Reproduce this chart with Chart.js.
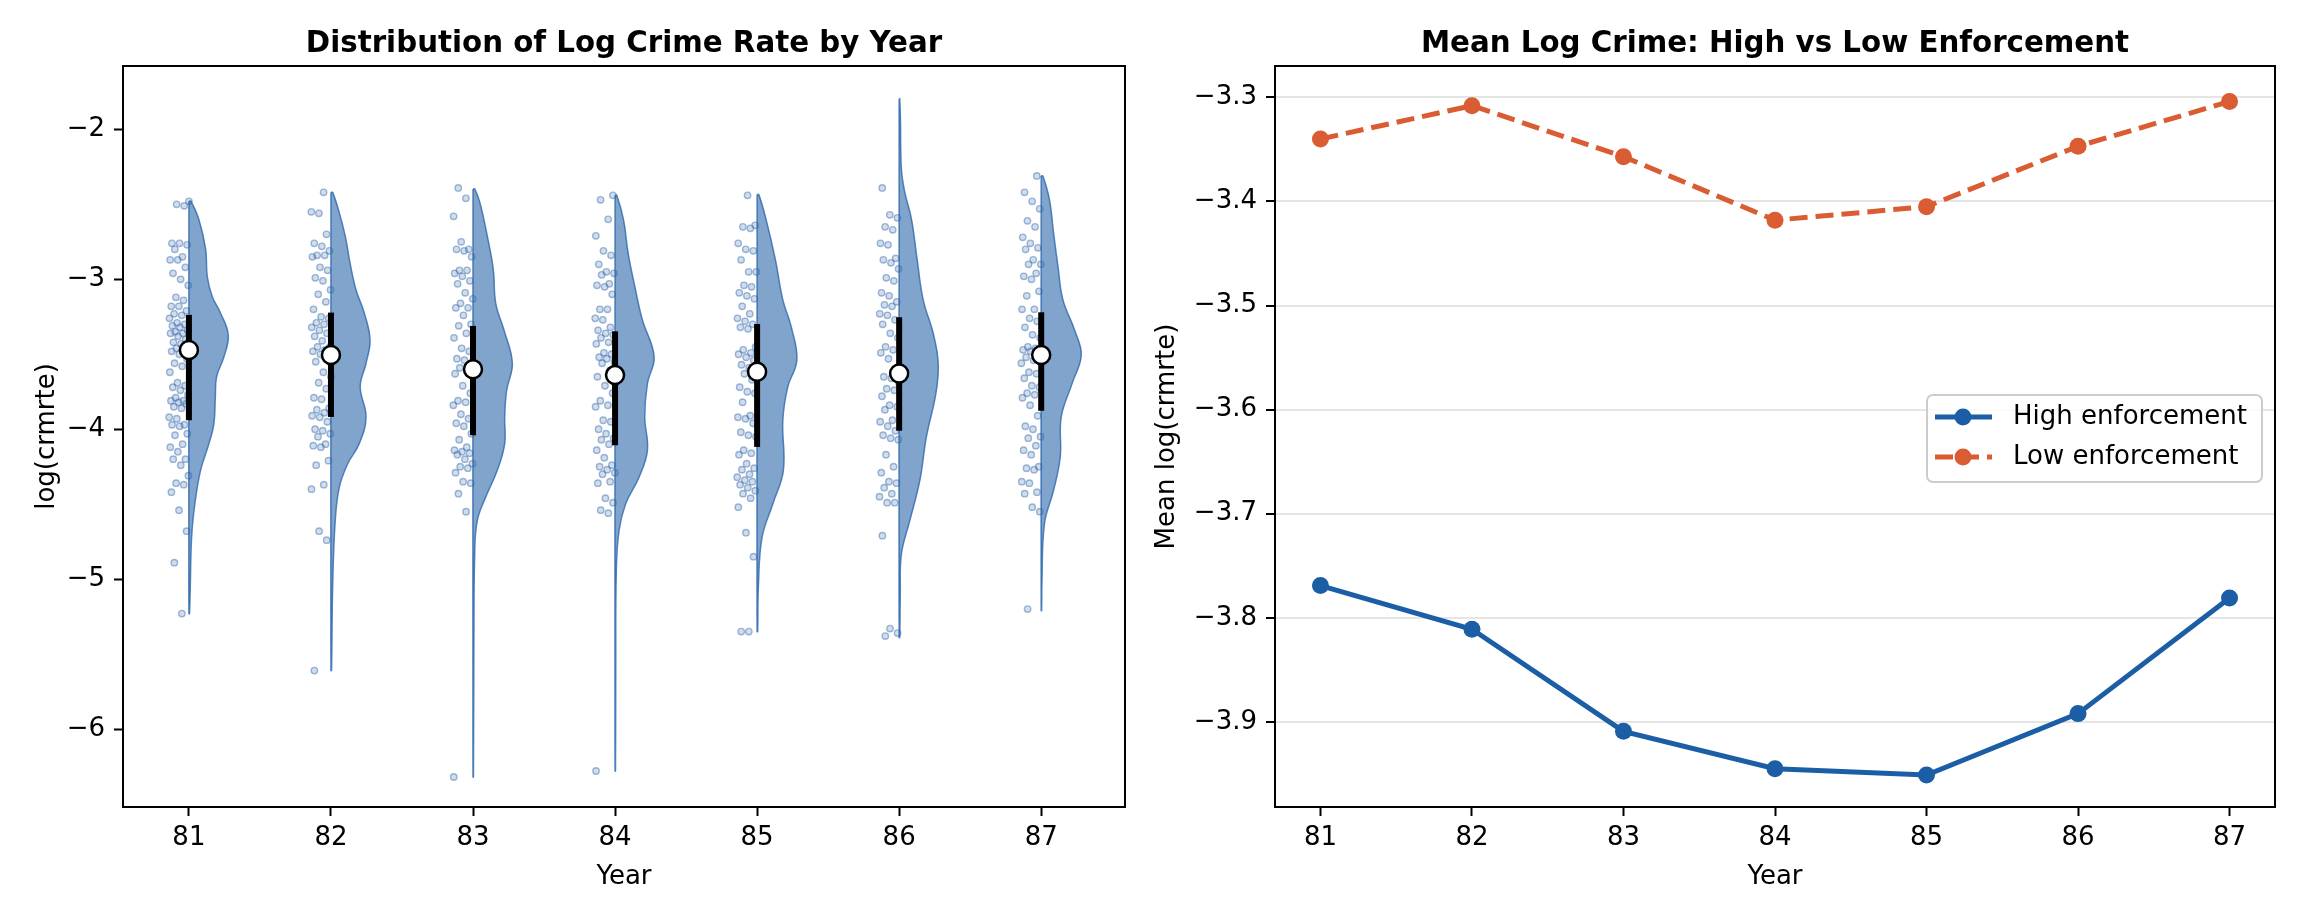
<!DOCTYPE html>
<html>
<head>
<meta charset="utf-8">
<script src="https://cdn.jsdelivr.net/npm/chart.js@4.4.1/dist/chart.umd.min.js"></script>
<style>
  html, body { margin: 0; padding: 0; background: #fff; }
  body { width: 2304px; height: 921px; position: relative; overflow: hidden; }
  #violins { position: absolute; left: 0; top: 0; }
  #means { position: absolute; left: 1140px; top: 0; }
</style>
</head>
<body>
<canvas id="violins" width="1152" height="921"></canvas>
<canvas id="means" width="1164" height="921"></canvas>
<script>
// ---- values ----
var years = [81, 82, 83, 84, 85, 86, 87];

// right panel: mean log(crmrte) per enforcement group
var highEnf = [-3.769, -3.811, -3.909, -3.945, -3.951, -3.892, -3.781];
var lowEnf  = [-3.340, -3.308, -3.357, -3.418, -3.405, -3.347, -3.304];

// left panel: quartiles and median per year
var q1      = [-3.940, -3.918, -4.040, -4.107, -4.118, -4.010, -3.877];
var q3      = [-3.237, -3.222, -3.311, -3.347, -3.298, -3.253, -3.220];
var medians = [-3.472, -3.505, -3.600, -3.639, -3.616, -3.628, -3.505];

// half violin outline: level and half width (in year slots), top to bottom
var kdeY81 = [-2.48, -2.60, -2.80, -2.98, -3.115, -3.226, -3.371, -3.516, -3.65, -3.784, -3.962, -4.096, -4.274, -4.497, -4.72, -5.08, -5.23];
var kdeW81 = [0.014, 0.070, 0.118, 0.129, 0.164, 0.223, 0.277, 0.247, 0.195, 0.186, 0.176, 0.141, 0.082, 0.042, 0.019, 0.009, 0.004];
var kdeY82 = [-2.42, -2.557, -2.714, -2.89, -3.07, -3.226, -3.405, -3.56, -3.717, -3.918, -4.096, -4.23, -4.386, -4.61, -5.05, -5.61];
var kdeW82 = [0.012, 0.059, 0.101, 0.134, 0.176, 0.235, 0.275, 0.247, 0.206, 0.247, 0.199, 0.118, 0.059, 0.030, 0.012, 0.004];
var kdeY83 = [-2.397, -2.49, -2.714, -2.936, -3.16, -3.338, -3.56, -3.739, -3.918, -4.096, -4.274, -4.453, -4.61, -4.83, -5.5, -6.32];
var kdeW83 = [0.012, 0.049, 0.101, 0.143, 0.160, 0.218, 0.277, 0.237, 0.223, 0.223, 0.171, 0.089, 0.030, 0.012, 0.006, 0.003];
var kdeY84 = [-2.44, -2.60, -2.825, -3.048, -3.27, -3.516, -3.694, -3.918, -4.14, -4.32, -4.497, -4.676, -4.94, -5.6, -6.28];
var kdeW84 = [0.012, 0.059, 0.092, 0.139, 0.192, 0.275, 0.228, 0.209, 0.228, 0.169, 0.075, 0.028, 0.009, 0.005, 0.003];
var kdeY85 = [-2.435, -2.60, -2.87, -3.137, -3.316, -3.538, -3.717, -3.94, -4.274, -4.497, -4.72, -5.05, -5.35];
var kdeW85 = [0.012, 0.063, 0.129, 0.181, 0.240, 0.280, 0.216, 0.181, 0.185, 0.111, 0.035, 0.009, 0.004];
var kdeY86 = [-1.795, -1.933, -2.268, -2.42, -2.60, -2.87, -3.137, -3.36, -3.56, -3.76, -4.05, -4.34, -4.61, -4.83, -5.1, -5.39];
var kdeW86 = [0.004, 0.009, 0.016, 0.040, 0.087, 0.127, 0.169, 0.240, 0.275, 0.259, 0.192, 0.146, 0.075, 0.016, 0.008, 0.004];
var kdeY87 = [-2.31, -2.468, -2.69, -2.914, -3.137, -3.338, -3.505, -3.694, -3.918, -4.185, -4.408, -4.63, -5.03, -5.21];
var kdeW87 = [0.012, 0.058, 0.087, 0.118, 0.153, 0.235, 0.282, 0.218, 0.141, 0.134, 0.087, 0.023, 0.005, 0.003];

// county observations per year (strip next to each violin)
var obs81 = [-2.48,-2.50,-2.51,-2.76,-2.76,-2.77,-2.80,-2.85,-2.87,-2.87,-2.92,-2.96,-3.00,-3.04,-3.12,-3.14,-3.18,-3.18,-3.21,-3.23,-3.24,-3.26,-3.29,-3.30,-3.31,-3.32,-3.34,-3.35,-3.36,-3.36,-3.38,-3.40,-3.42,-3.43,-3.44,-3.46,-3.47,-3.48,-3.50,-3.53,-3.56,-3.58,-3.62,-3.69,-3.71,-3.72,-3.74,-3.77,-3.79,-3.81,-3.81,-3.82,-3.83,-3.85,-3.86,-3.92,-3.93,-3.97,-3.97,-3.98,-4.03,-4.04,-4.10,-4.12,-4.15,-4.20,-4.20,-4.24,-4.31,-4.36,-4.37,-4.42,-4.54,-4.68,-4.89,-5.23];
var obs82 = [-2.42,-2.55,-2.56,-2.70,-2.76,-2.78,-2.81,-2.84,-2.84,-2.85,-2.92,-2.94,-2.99,-3.01,-3.07,-3.10,-3.15,-3.20,-3.25,-3.26,-3.29,-3.30,-3.32,-3.34,-3.36,-3.38,-3.41,-3.45,-3.45,-3.47,-3.48,-3.50,-3.53,-3.55,-3.62,-3.65,-3.69,-3.73,-3.79,-3.80,-3.86,-3.87,-3.89,-3.91,-3.92,-3.95,-4.00,-4.01,-4.03,-4.05,-4.10,-4.11,-4.12,-4.21,-4.24,-4.37,-4.40,-4.68,-4.74,-5.61];
var obs83 = [-2.39,-2.46,-2.58,-2.75,-2.80,-2.80,-2.81,-2.85,-2.94,-2.94,-2.96,-2.98,-3.01,-3.03,-3.09,-3.13,-3.16,-3.19,-3.19,-3.24,-3.30,-3.31,-3.36,-3.39,-3.46,-3.48,-3.53,-3.54,-3.56,-3.59,-3.62,-3.63,-3.71,-3.76,-3.81,-3.82,-3.84,-3.90,-3.93,-3.96,-3.98,-4.03,-4.07,-4.12,-4.14,-4.15,-4.16,-4.17,-4.20,-4.23,-4.25,-4.26,-4.29,-4.35,-4.36,-4.43,-4.55,-6.32];
var obs84 = [-2.44,-2.47,-2.60,-2.71,-2.81,-2.84,-2.90,-2.95,-2.96,-2.97,-3.03,-3.04,-3.05,-3.10,-3.20,-3.20,-3.26,-3.27,-3.32,-3.34,-3.36,-3.37,-3.39,-3.42,-3.43,-3.49,-3.50,-3.52,-3.53,-3.55,-3.56,-3.61,-3.65,-3.71,-3.76,-3.81,-3.84,-3.85,-3.94,-3.95,-4.00,-4.03,-4.06,-4.07,-4.10,-4.14,-4.19,-4.24,-4.25,-4.27,-4.29,-4.30,-4.35,-4.36,-4.46,-4.49,-4.54,-4.56,-6.28];
var obs85 = [-2.44,-2.64,-2.65,-2.66,-2.76,-2.80,-2.81,-2.87,-2.95,-2.95,-3.04,-3.05,-3.09,-3.11,-3.13,-3.18,-3.23,-3.26,-3.28,-3.30,-3.32,-3.33,-3.45,-3.47,-3.49,-3.50,-3.52,-3.54,-3.57,-3.59,-3.61,-3.63,-3.67,-3.72,-3.75,-3.76,-3.82,-3.91,-3.92,-3.93,-3.96,-4.02,-4.04,-4.05,-4.14,-4.16,-4.17,-4.23,-4.26,-4.27,-4.30,-4.32,-4.34,-4.35,-4.37,-4.39,-4.41,-4.43,-4.46,-4.52,-4.69,-4.85,-5.35,-5.35];
var obs86 = [-2.39,-2.57,-2.59,-2.65,-2.67,-2.76,-2.77,-2.86,-2.87,-2.89,-2.93,-2.99,-3.01,-3.09,-3.11,-3.15,-3.17,-3.18,-3.23,-3.24,-3.27,-3.30,-3.36,-3.39,-3.45,-3.47,-3.49,-3.53,-3.64,-3.65,-3.66,-3.69,-3.73,-3.74,-3.78,-3.84,-3.85,-3.87,-3.94,-3.95,-3.98,-4.01,-4.04,-4.06,-4.07,-4.17,-4.25,-4.29,-4.35,-4.36,-4.39,-4.43,-4.45,-4.49,-4.49,-4.71,-5.33,-5.36,-5.38];
var obs87 = [-2.31,-2.42,-2.48,-2.53,-2.61,-2.65,-2.72,-2.76,-2.79,-2.80,-2.87,-2.90,-2.90,-2.96,-2.98,-3.00,-3.08,-3.11,-3.20,-3.20,-3.26,-3.28,-3.32,-3.37,-3.39,-3.45,-3.46,-3.47,-3.48,-3.50,-3.52,-3.54,-3.56,-3.62,-3.63,-3.66,-3.71,-3.72,-3.76,-3.77,-3.79,-3.84,-3.91,-3.98,-4.00,-4.05,-4.06,-4.11,-4.14,-4.17,-4.25,-4.26,-4.27,-4.35,-4.36,-4.42,-4.43,-4.52,-4.55,-5.20];

var kdeY = [kdeY81, kdeY82, kdeY83, kdeY84, kdeY85, kdeY86, kdeY87];
var kdeW = [kdeW81, kdeW82, kdeW83, kdeW84, kdeW85, kdeW86, kdeW87];
var obs = [obs81, obs82, obs83, obs84, obs85, obs86, obs87];

Chart.defaults.font.family = '"DejaVu Sans", sans-serif';
Chart.defaults.font.size = 26;
Chart.defaults.color = '#000';
Chart.defaults.animation = false;
Chart.defaults.plugins.legend.display = false;
Chart.defaults.plugins.tooltip.enabled = false;

function minusFmt(v, digits) {
  var s = Math.abs(v).toFixed(digits);
  return v < 0 ? '\u2212' + s : s;
}

// title centred over the plot box, plus the top/right spines
var panelFrame = {
  id: 'panelFrame',
  afterDraw: function (chart, args, opts) {
    var ctx = chart.ctx, a = chart.chartArea;
    ctx.save();
    ctx.lineWidth = 2;
    ctx.strokeStyle = '#000';
    ctx.strokeRect(a.left, a.top, a.right - a.left, a.bottom - a.top);
    ctx.font = 'bold 29.3px "DejaVu Sans"';
    ctx.fillStyle = '#000';
    ctx.textAlign = 'center';
    ctx.textBaseline = 'alphabetic';
    ctx.fillText(opts.text, (a.left + a.right) / 2, a.top - 14);
    ctx.restore();
  }
};

// matplotlib-like legend box, centre right of the plot area
var boxLegend = {
  id: 'boxLegend',
  afterDraw: function (chart) {
    var ctx = chart.ctx, a = chart.chartArea;
    var w = 335, h = 87;
    var x0 = a.right - 13 - w;
    var y0 = (a.top + a.bottom) / 2 - h / 2 + 2;
    ctx.save();
    ctx.beginPath();
    ctx.roundRect(x0, y0, w, h, 6);
    ctx.fillStyle = 'rgba(255,255,255,0.8)';
    ctx.fill();
    ctx.lineWidth = 2;
    ctx.strokeStyle = '#cccccc';
    ctx.stroke();
    chart.data.datasets.forEach(function (ds, k) {
      var cy = y0 + 22 + k * 40;
      ctx.setLineDash(ds.borderDash || []);
      ctx.strokeStyle = ds.borderColor;
      ctx.lineWidth = ds.borderWidth;
      ctx.beginPath();
      ctx.moveTo(x0 + 8, cy);
      ctx.lineTo(x0 + 65, cy);
      ctx.stroke();
      ctx.setLineDash([]);
      ctx.fillStyle = ds.borderColor;
      ctx.beginPath();
      ctx.arc(x0 + 36, cy, ds.pointRadius, 0, 2 * Math.PI);
      ctx.fill();
      ctx.fillStyle = '#000';
      ctx.font = '26px "DejaVu Sans"';
      ctx.textAlign = 'left';
      ctx.textBaseline = 'middle';
      ctx.fillText(ds.label, x0 + 86, cy);
    });
    ctx.restore();
  }
};

// ---------- left panel: half violins + strip + box ----------
var leftSets = [];
for (var i = 0; i < years.length; i++) {
  var ys = kdeY[i], ws = kdeW[i];
  var shape = [{ x: i, y: ys[0] }];
  for (var k = 0; k < ys.length; k++) shape.push({ x: i + ws[k], y: ys[k] });
  shape.push({ x: i, y: ys[ys.length - 1] });
  shape.push({ x: i, y: ys[0] });
  leftSets.push({
    data: shape,
    fill: 'shape',
    backgroundColor: 'rgba(45,104,172,0.6)',
    borderColor: 'rgba(45,104,172,0.8)',
    borderWidth: 1.5,
    pointRadius: 0,
    tension: 0.4,
    order: 3
  });

  // strip points sit just left of the violin (spread is cosmetic only)
  var pts = obs[i].map(function (v, n) {
    return { x: i - 0.14 * ((n * 0.618034 + i * 0.37) % 1), y: v };
  });
  leftSets.push({
    data: pts,
    showLine: false,
    pointRadius: 3.2,
    pointBorderWidth: 1.4,
    pointBackgroundColor: 'rgba(48,101,170,0.22)',
    pointBorderColor: 'rgba(48,101,170,0.45)',
    order: 2
  });

  leftSets.push({
    data: [{ x: i, y: q1[i] }, { x: i, y: q3[i] }],
    borderColor: '#000',
    borderWidth: 6,
    borderCapStyle: 'butt',
    pointRadius: 0,
    order: 1
  });
}
leftSets.push({
  data: medians.map(function (v, i) { return { x: i, y: v }; }),
  showLine: false,
  pointRadius: 9,
  pointBorderWidth: 2.5,
  pointBackgroundColor: '#fff',
  pointBorderColor: '#000',
  order: 0
});

new Chart(document.getElementById('violins'), {
  type: 'line',
  data: { datasets: leftSets },
  plugins: [panelFrame],
  options: {
    responsive: false,
    devicePixelRatio: 1,
    layout: { padding: { top: 66, left: 0, right: 27, bottom: 0 } },
    plugins: { panelFrame: { text: 'Distribution of Log Crime Rate by Year' } },
    scales: {
      x: {
        type: 'linear',
        min: -0.464,
        max: 6.59,
        afterFit: function (s) { s.height = 114; },
        ticks: {
          stepSize: 1,
          includeBounds: false,
          maxRotation: 0,
          padding: 7,
          callback: function (v) { return years[v]; }
        },
        grid: { drawOnChartArea: false, tickLength: 9, tickWidth: 2, tickColor: '#000' },
        border: { display: true, color: '#000', width: 2 },
        title: { display: true, text: 'Year', padding: { top: 0, bottom: 28 } }
      },
      y: {
        type: 'linear',
        min: -6.52,
        max: -1.577,
        afterFit: function (s) { s.width = 123; },
        ticks: {
          stepSize: 1,
          includeBounds: false,
          padding: 9,
          callback: function (v) { return minusFmt(v, 0); }
        },
        grid: { drawOnChartArea: false, tickLength: 9, tickWidth: 2, tickColor: '#000' },
        border: { display: true, color: '#000', width: 2 },
        title: { display: true, text: 'log(crmrte)', padding: { top: 32, bottom: 0 } }
      }
    }
  }
});

// ---------- right panel: group means ----------
new Chart(document.getElementById('means'), {
  type: 'line',
  data: {
    datasets: [
      {
        label: 'High enforcement',
        data: years.map(function (y, i) { return { x: y, y: highEnf[i] }; }),
        borderColor: '#1c5ea6',
        backgroundColor: '#1c5ea6',
        borderWidth: 5,
        pointRadius: 8.5,
        pointBorderWidth: 0,
        pointBackgroundColor: '#1c5ea6'
      },
      {
        label: 'Low enforcement',
        data: years.map(function (y, i) { return { x: y, y: lowEnf[i] }; }),
        borderColor: '#d95c33',
        backgroundColor: '#d95c33',
        borderWidth: 5,
        borderDash: [18, 8],
        pointRadius: 8.5,
        pointBorderWidth: 0,
        pointBackgroundColor: '#d95c33'
      }
    ]
  },
  plugins: [panelFrame, boxLegend],
  options: {
    responsive: false,
    devicePixelRatio: 1,
    layout: { padding: { top: 66, left: 0, right: 29, bottom: 0 } },
    plugins: { panelFrame: { text: 'Mean Log Crime: High vs Low Enforcement' } },
    scales: {
      x: {
        type: 'linear',
        min: 80.7,
        max: 87.3,
        afterFit: function (s) { s.height = 114; },
        ticks: {
          stepSize: 1,
          includeBounds: false,
          maxRotation: 0,
          padding: 7,
          callback: function (v) { return String(v); }
        },
        grid: { drawOnChartArea: false, tickLength: 9, tickWidth: 2, tickColor: '#000' },
        border: { display: true, color: '#000', width: 2 },
        title: { display: true, text: 'Year', padding: { top: 0, bottom: 28 } }
      },
      y: {
        type: 'linear',
        min: -3.9817,
        max: -3.2699,
        afterFit: function (s) { s.width = 135; },
        ticks: {
          stepSize: 0.1,
          includeBounds: false,
          padding: 9,
          callback: function (v) { return minusFmt(v, 1); }
        },
        grid: { color: '#e5e5e5', lineWidth: 2, tickLength: 9, tickWidth: 2, tickColor: '#000' },
        border: { display: true, color: '#000', width: 2 },
        title: { display: true, text: 'Mean log(crmrte)', padding: { top: 12, bottom: 0 } }
      }
    }
  }
});
</script>
</body>
</html>
